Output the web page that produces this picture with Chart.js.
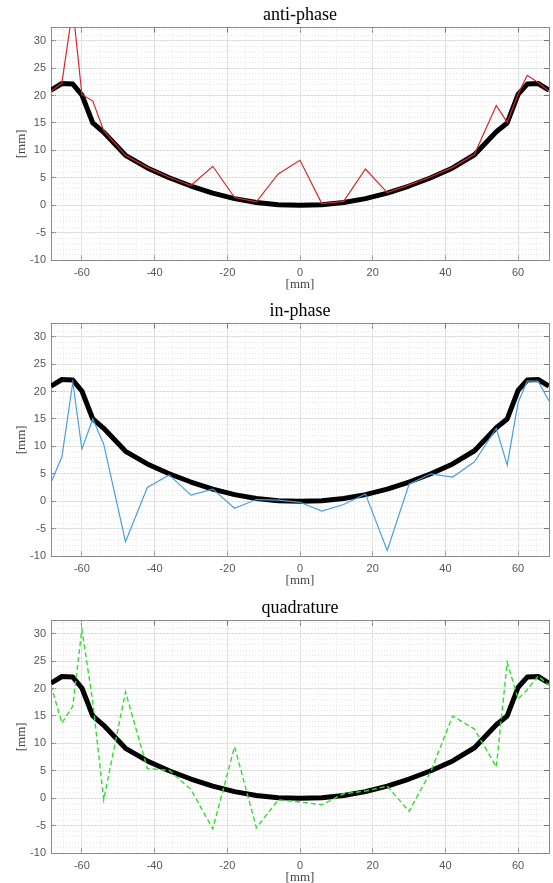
<!DOCTYPE html>
<html>
<head>
<meta charset="utf-8">
<script src="https://cdn.jsdelivr.net/npm/chart.js@4"></script>
<style>
  body { margin: 0; background: #fff; }
  #wrap { position: relative; width: 553px; height: 883px; overflow: hidden; }
  canvas { position: absolute; left: 0; }
</style>
</head>
<body>
<div id="wrap">
  <canvas id="c1" width="553" height="295" style="top:-1px"></canvas>
  <canvas id="c2" width="553" height="295" style="top:295px"></canvas>
  <canvas id="c3" width="553" height="295" style="top:592px"></canvas>
</div>
<script>
// positions along the profile [mm]
var xValues = [-68.5, -65.5, -62.5, -60, -57, -54, -48, -42, -36, -30, -24, -18, -12, -6, 0,
  6, 12, 18, 24, 30, 36, 42, 48, 54, 57, 60, 62.5, 65.5, 68.5];

// reference shape (thick black)
var refValues = [21, 22.2, 22.1, 20.1, 15, 13.3, 9.1, 6.8, 5.0, 3.5, 2.2, 1.2, 0.5, 0.1, 0,
  0.1, 0.5, 1.2, 2.2, 3.5, 5.0, 6.8, 9.2, 13.4, 15, 20.2, 22.1, 22.2, 21];

var antiValues = [20.8, 22.3, 36, 20.2, 19, 13.6, 9.1, 6.9, 5.1, 3.6, 7.1, 1.4, 0.6, 5.7, 8.2,
  0.3, 0.7, 6.6, 2.3, 3.7, 5.2, 6.9, 9.3, 18.2, 15.1, 20.3, 23.7, 22.4, 20.8];

var inValues = [3.4, 8.1, 21.7, 9.5, 15, 10.4, -7.4, 2.5, 4.8, 1.1, 2.2, -1.3, 0.3, 0.2, -0.2,
  -1.8, -0.6, 1.3, -9.0, 3.1, 5.0, 4.4, 7.2, 13.3, 6.6, 18.0, 21.9, 21.9, 18.3];

var quadValues = [20.6, 13.7, 16.8, 30.8, 17.5, -0.3, 19.4, 5.4, 5.1, 1.6, -5.6, 9.4, -5.4, -0.3, -0.7,
  -1.2, 0.8, 1.3, 2.2, -2.4, 4.9, 15.0, 12.6, 5.7, 24.8, 18.1, 19.8, 22.3, 20.6];

var xMin = -68.5, xMax = 68.5;
var yMin = -10, yMax = 32.4;
var xStep = 20, yStep = 5;

function pts(ys) {
  return xValues.map(function (x, i) { return {x: x, y: ys[i]}; });
}

var tickFont = {family: "'Liberation Sans', Arial, sans-serif", size: 11};
var labelFont = {family: "'Liberation Serif', 'Times New Roman', serif", size: 13};

function makeChart(id, title, values, color, dash) {
  new Chart(document.getElementById(id), {
    type: "line",
    data: {
      datasets: [
        {
          data: pts(values),
          borderColor: color,
          borderWidth: dash ? 1.4 : 1.2,
          borderDash: dash || [],
          pointRadius: 0,
          tension: 0,
          order: 0
        },
        {
          data: pts(refValues),
          borderColor: "#000",
          borderWidth: 5,
          borderJoinStyle: "round",
          pointRadius: 0,
          tension: 0,
          order: 1
        }
      ]
    },
    options: {
      responsive: false,
      animation: false,
      layout: {padding: {left: 0, right: 4, top: 0, bottom: 0}},
      plugins: {
        legend: {display: false},
        tooltip: {enabled: false},
        title: {
          display: true,
          text: title,
          fullSize: false,
          color: "#000",
          font: {family: "'Liberation Serif', 'Times New Roman', serif", size: 18, weight: "normal"},
          padding: {top: 5, bottom: 2}
        }
      },
      scales: {
        x: {
          type: "linear", position: "bottom", min: xMin, max: xMax,
          ticks: {stepSize: xStep, includeBounds: false, maxRotation: 0, padding: 11, color: "#555", font: tickFont},
          grid: {color: "#dedede", tickColor: "#777", tickLength: -5},
          border: {color: "#8a8a8a"},
          title: {display: true, text: "[mm]", color: "#444", font: labelFont, padding: {top: 0, bottom: 2}},
          afterFit: function (s) { s.height = 34; }
        },
        xm: {
          type: "linear", position: "bottom", min: xMin, max: xMax,
          ticks: {display: false, stepSize: 5, includeBounds: false},
          grid: {color: "#e6e6e6", drawTicks: false},
          border: {display: false, dash: [1, 2]},
          afterFit: function (s) { s.height = 0; }
        },
        xt: {
          type: "linear", position: "top", min: xMin, max: xMax,
          ticks: {display: false, stepSize: xStep, includeBounds: false},
          grid: {drawOnChartArea: false, tickColor: "#777", tickLength: -5},
          border: {color: "#8a8a8a"},
          afterFit: function (s) { s.height = 0; }
        },
        y: {
          type: "linear", position: "left", min: yMin, max: yMax,
          ticks: {stepSize: yStep, includeBounds: false, padding: 10, color: "#555", font: tickFont},
          grid: {color: "#dedede", tickColor: "#777", tickLength: -5},
          border: {color: "#8a8a8a"},
          title: {display: true, text: "[mm]", color: "#444", font: labelFont, padding: {top: 14, bottom: 0}},
          afterFit: function (s) { s.width = 51; }
        },
        ym: {
          type: "linear", position: "left", min: yMin, max: yMax,
          ticks: {display: false, stepSize: 1, includeBounds: false},
          grid: {color: "#e6e6e6", drawTicks: false},
          border: {display: false, dash: [1, 2]},
          afterFit: function (s) { s.width = 0; }
        },
        yr: {
          type: "linear", position: "right", min: yMin, max: yMax,
          ticks: {display: false, stepSize: yStep, includeBounds: false},
          grid: {drawOnChartArea: false, tickColor: "#777", tickLength: -5},
          border: {color: "#8a8a8a"},
          afterFit: function (s) { s.width = 0; }
        }
      }
    }
  });
}

makeChart("c1", "anti-phase", antiValues, "#d9262b", null);
makeChart("c2", "in-phase", inValues, "#4a9fe0", null);
makeChart("c3", "quadrature", quadValues, "#2ee02e", [5, 3]);
</script>
</body>
</html>
